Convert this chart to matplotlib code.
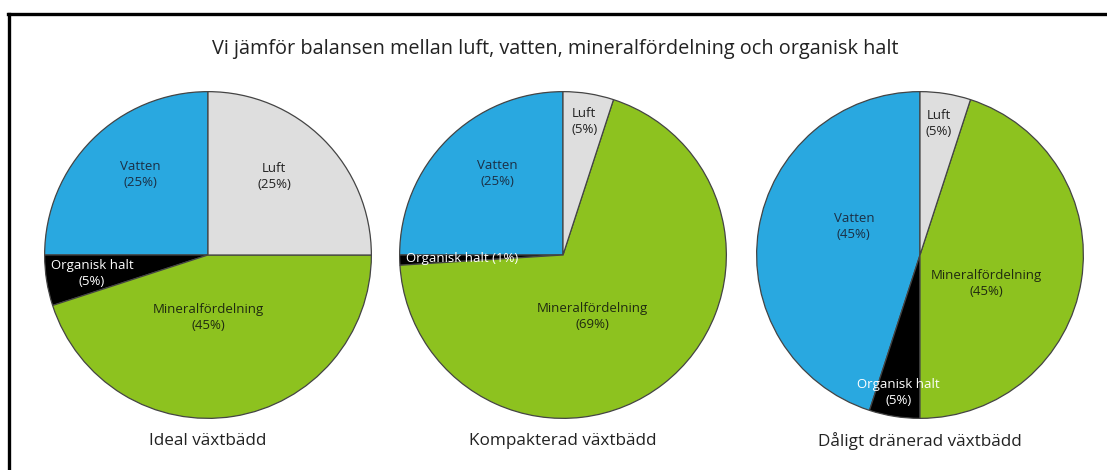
import matplotlib.pyplot as plt
import numpy as np
from matplotlib.lines import Line2D

plt.rcParams['font.family'] = ['Open Sans', 'DejaVu Sans']

# data
kategorier = ["Vatten", "Organisk halt", "Mineralfördelning", "Luft"]
ideal = [25, 5, 45, 25]
kompakterad = [25, 1, 69, 5]
daligt = [45, 5, 45, 5]
rubriker = ["Ideal växtbädd", "Kompakterad växtbädd", "Dåligt dränerad växtbädd"]
titel = "Vi jämför balansen mellan luft, vatten, mineralfördelning och organisk halt"

farger = ["#29a8e0", "#000000", "#8dc21f", "#dedede"]
textfarger = ["#1b2f45", "white", "#1f2a10", "#222222"]

# label distance from centre, per pie and wedge
avstand = [[0.64, 0.72, 0.38, 0.63],
           [0.64, 0.62, 0.42, 0.83],
           [0.44, 0.85, 0.44, 0.81]]
# label nudge along the arc (degrees)
vinkelskift = [[-5, 0, -9, 5],
               [-6, 0, -12, 0],
               [-14, 0, -14, 1]]

fig = plt.figure(figsize=(11.07, 4.70), dpi=100)

cx = [208, 563, 920]
cy = 255
r = 165
W, H = 1107, 470

for i, varden in enumerate([ideal, kompakterad, daligt]):
    ax = fig.add_axes([(cx[i] - r) / W, 1 - (cy + r) / H, 2 * r / W, 2 * r / H])
    wedges, _ = ax.pie(varden, colors=farger, startangle=90, counterclock=True,
                       radius=1, wedgeprops=dict(edgecolor="#444444", linewidth=0.9))
    for j, w in enumerate(wedges):
        mid = np.deg2rad((w.theta1 + w.theta2) / 2 + vinkelskift[i][j])
        d = avstand[i][j]
        if varden[j] <= 1:
            txt = "%s (%d%%)" % (kategorier[j], varden[j])
        else:
            txt = "%s\n(%d%%)" % (kategorier[j], varden[j])
        ax.text(d * np.cos(mid), d * np.sin(mid), txt, ha="center", va="center",
                fontsize=9.5, color=textfarger[j], linespacing=1.3)
    ax.set_xlim(-1.01, 1.01)
    ax.set_ylim(-1.01, 1.01)
    ax.set_aspect("equal")
    ax.axis("off")
    fig.text(cx[i] / W, 1 - 441 / H, rubriker[i], ha="center", va="center",
             fontsize=12.3, color="#222222")

fig.text(0.502, 1 - 49 / H, titel, ha="center", va="center", fontsize=14.3, color="#222222")

# frame (top and left only)
fig.add_artist(Line2D([9 / W, 9 / W], [0, 1 - 14 / H], color="black", linewidth=2.4,
                      transform=fig.transFigure))
fig.add_artist(Line2D([8 / W, 1], [1 - 14 / H, 1 - 14 / H], color="black", linewidth=2.4,
                      transform=fig.transFigure))

plt.savefig("out.png", dpi=100)
